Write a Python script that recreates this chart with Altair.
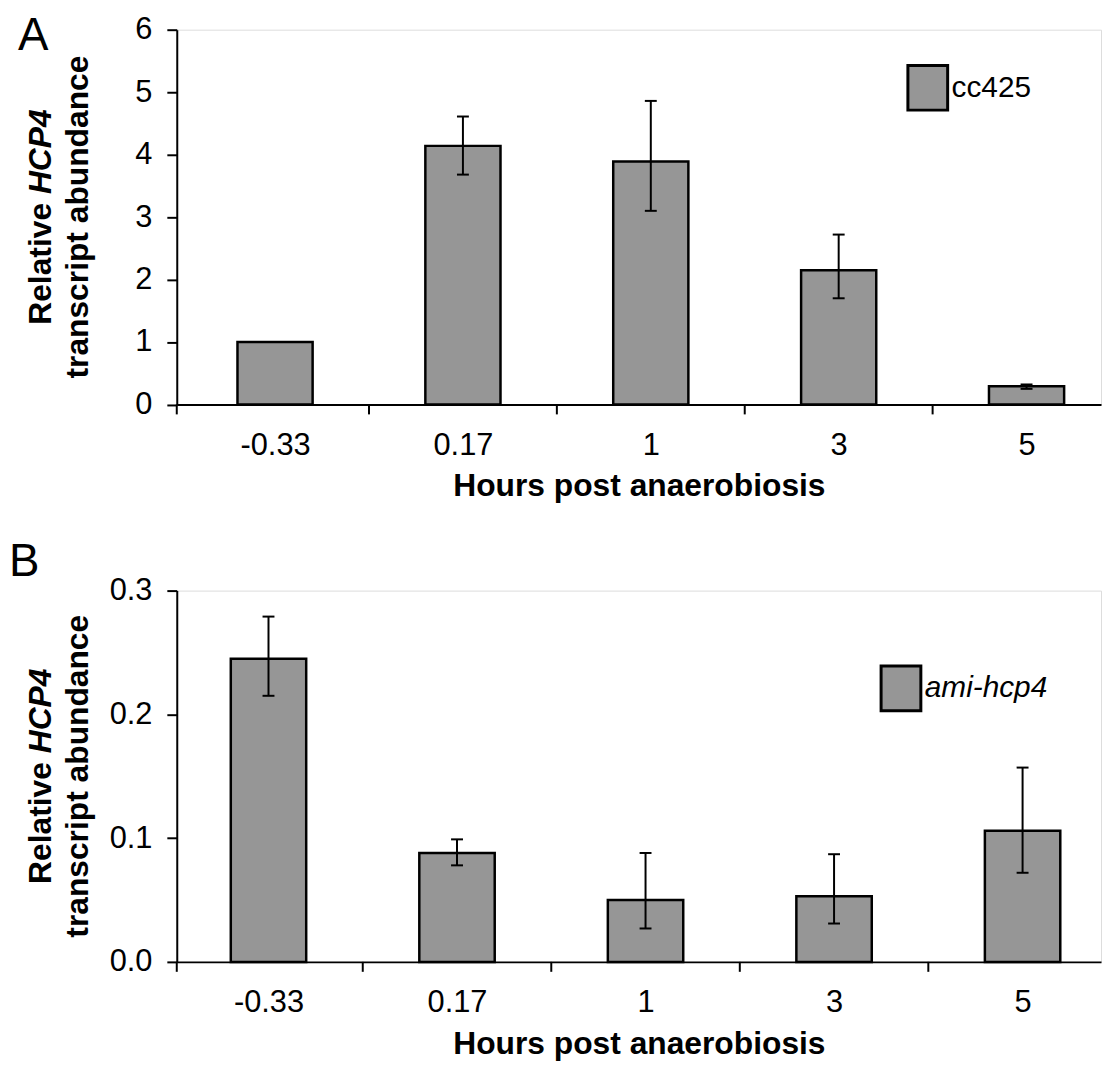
import altair as alt
import pandas as pd

FONT = "Liberation Sans"

hours = ["-0.33", "0.17", "1", "3", "5"]

cc425_mean = [1.00, 4.14, 3.89, 2.15, 0.29]
cc425_upper = [1.00, 4.61, 4.86, 2.72, 0.32]
cc425_lower = [1.00, 3.68, 3.10, 1.70, 0.25]

ami_mean = [0.245, 0.088, 0.050, 0.053, 0.106]
ami_upper = [0.279, 0.099, 0.088, 0.087, 0.157]
ami_lower = [0.215, 0.078, 0.027, 0.031, 0.072]

ticks_a = [0, 1, 2, 3, 4, 5, 6]
ticks_b = [0.0, 0.1, 0.2, 0.3]

LEFT = 177
WIDTH = 931
BOX_PATH = "M-0.89,-1H0.89V1H-0.89Z"
TICK_FS = 31
LEGEND_FS = 30


def panel(name, means, uppers, lowers, ymax, ytick_vals, yfmt, height, step,
          first_center_px, letter, letter_xy, legend_xy, italic):
    n = len(hours)
    df = pd.DataFrame({
        "pos": list(range(n)), "hour": hours, "value": means,
        "upper": uppers, "lower": lowers, "series": [name] * n,
    })
    dmin = -first_center_px / step
    xs = alt.Scale(domain=[dmin, dmin + WIDTH / step], nice=False, zero=False)
    ys = alt.Scale(domain=[0, ymax], nice=False, zero=True)
    half_bar = 0.2
    half_cap = 6.0 / step
    label_expr = "[" + ",".join("'%s'" % h for h in hours) + "][datum.value]"

    x_axis = alt.Axis(
        values=list(range(n)), labelExpr=label_expr, ticks=False, tickSize=0,
        grid=False, domainColor="black", domainWidth=2,
        labelFontSize=TICK_FS, labelColor="black", labelFont=FONT,
        labelPadding=26, labelFlush=False, labelOverlap=False,
        title="Hours post anaerobiosis", titleFontSize=32,
        titleFontWeight="bold", titleColor="black", titleFont=FONT,
        titlePadding=11)
    y_axis = alt.Axis(
        values=ytick_vals, format=yfmt, grid=False, domainColor="black",
        domainWidth=2, tickColor="black", tickWidth=2, tickSize=10,
        labelFontSize=TICK_FS, labelColor="black", labelFont=FONT,
        labelPadding=15, title=None)

    base = alt.Chart(df)
    bars = base.mark_bar(stroke="black", strokeWidth=2.5).transform_calculate(
        lo="datum.pos - %f" % half_bar, hi="datum.pos + %f" % half_bar,
        zero="0"
    ).encode(
        x=alt.X("lo:Q", scale=xs, axis=x_axis),
        x2="hi:Q",
        y=alt.Y("value:Q", scale=ys, axis=y_axis),
        y2="zero:Q",
        color=alt.Color("series:N", scale=alt.Scale(range=["#969696"]),
                        legend=alt.Legend(
                            title=None, orient="none", legendX=legend_xy[0],
                            legendY=legend_xy[1], symbolType=BOX_PATH,
                            symbolSize=2025, symbolStrokeColor="black",
                            symbolStrokeWidth=3, symbolOpacity=1,
                            labelFontSize=LEGEND_FS, labelColor="black",
                            labelFont=FONT,
                            labelFontStyle="italic" if italic else "normal",
                            labelOffset=0, padding=0)),
    )

    err = base.transform_filter("datum.upper > datum.lower")
    stems = err.mark_rule(color="black", strokeWidth=2).encode(
        x=alt.X("pos:Q", scale=xs, axis=x_axis),
        y=alt.Y("lower:Q", scale=ys, axis=y_axis),
        y2="upper:Q",
    )
    caps = []
    for fld in ["upper", "lower"]:
        caps.append(err.mark_rule(color="black", strokeWidth=2).transform_calculate(
            c0="datum.pos - %f" % half_cap, c1="datum.pos + %f" % half_cap
        ).encode(
            x=alt.X("c0:Q", scale=xs, axis=x_axis), x2="c1:Q",
            y=alt.Y("%s:Q" % fld, scale=ys, axis=y_axis),
        ))

    # category boundary ticks (between bars)
    bdf = pd.DataFrame({"b": [i + 0.5 for i in range(n - 1)]})
    bticks = alt.Chart(bdf).mark_rule(color="black", strokeWidth=2).encode(
        x=alt.X("b:Q", scale=xs, axis=x_axis),
        y=alt.value(height), y2=alt.value(height + 10),
    )

    one = pd.DataFrame({"k": [0]})
    # extension of the y axis line below the x axis
    ext = alt.Chart(one).mark_rule(color="black", strokeWidth=2).encode(
        x=alt.value(0), y=alt.value(height), y2=alt.value(height + 10))

    def txt(text, x, y, **kw):
        return alt.Chart(one).mark_text(text=text, font=FONT, color="black",
                                        **kw).encode(x=alt.value(x), y=alt.value(y))

    c = height / 2.0
    t1x = 50 - LEFT
    t2x = 88 - LEFT
    fs = 32
    w_rel = 3.835 * fs
    w_sp = 0.278 * fs
    w_hcp = 2.667 * fs
    tot = w_rel + w_sp + w_hcp
    rel_end = c + tot / 2 - w_rel
    hcp_start = rel_end - w_sp
    texts = [
        txt(letter, letter_xy[0], letter_xy[1], fontSize=46, align="left",
            baseline="top"),
        txt("Relative", t1x, rel_end, angle=270, align="right",
            baseline="alphabetic", fontSize=fs, fontWeight="bold"),
        txt("HCP4", t1x, hcp_start, angle=270, align="left",
            baseline="alphabetic", fontSize=fs, fontWeight="bold",
            fontStyle="italic"),
        txt("transcript abundance", t2x, c, angle=270, align="center",
            baseline="alphabetic", fontSize=fs, fontWeight="bold"),
    ]
    anchor = alt.Chart(one).mark_rule(opacity=0).encode(
        x=alt.value(8 - LEFT), y=alt.value(0), y2=alt.value(1))

    return alt.layer(bars, stems, *caps, bticks, ext, *texts, anchor).properties(
        width=WIDTH, height=height)


A = panel("cc425", cc425_mean, cc425_upper, cc425_lower, 6, ticks_a, "d",
          height=377.5, step=189.25, first_center_px=99, letter="A",
          letter_xy=(17 - LEFT, -16), legend_xy=(732.5, 34.5), italic=False)
B = panel("ami-hcp4", ami_mean, ami_upper, ami_lower, 0.3, ticks_b, ".1f",
          height=374, step=189.9, first_center_px=92.4, letter="B",
          letter_xy=(8 - LEFT, -50.7), legend_xy=(705.5, 74.5), italic=True)

chart = alt.vconcat(A, B, spacing=36).resolve_scale(
    x="independent", y="independent", color="independent"
).resolve_legend(color="independent").properties(
    padding={"left": 0, "top": 0, "right": 0, "bottom": 0}
).configure_view(strokeWidth=0).configure(font=FONT, background="white")

chart.save("out.html", embed_options={"renderer": "svg", "actions": False})
